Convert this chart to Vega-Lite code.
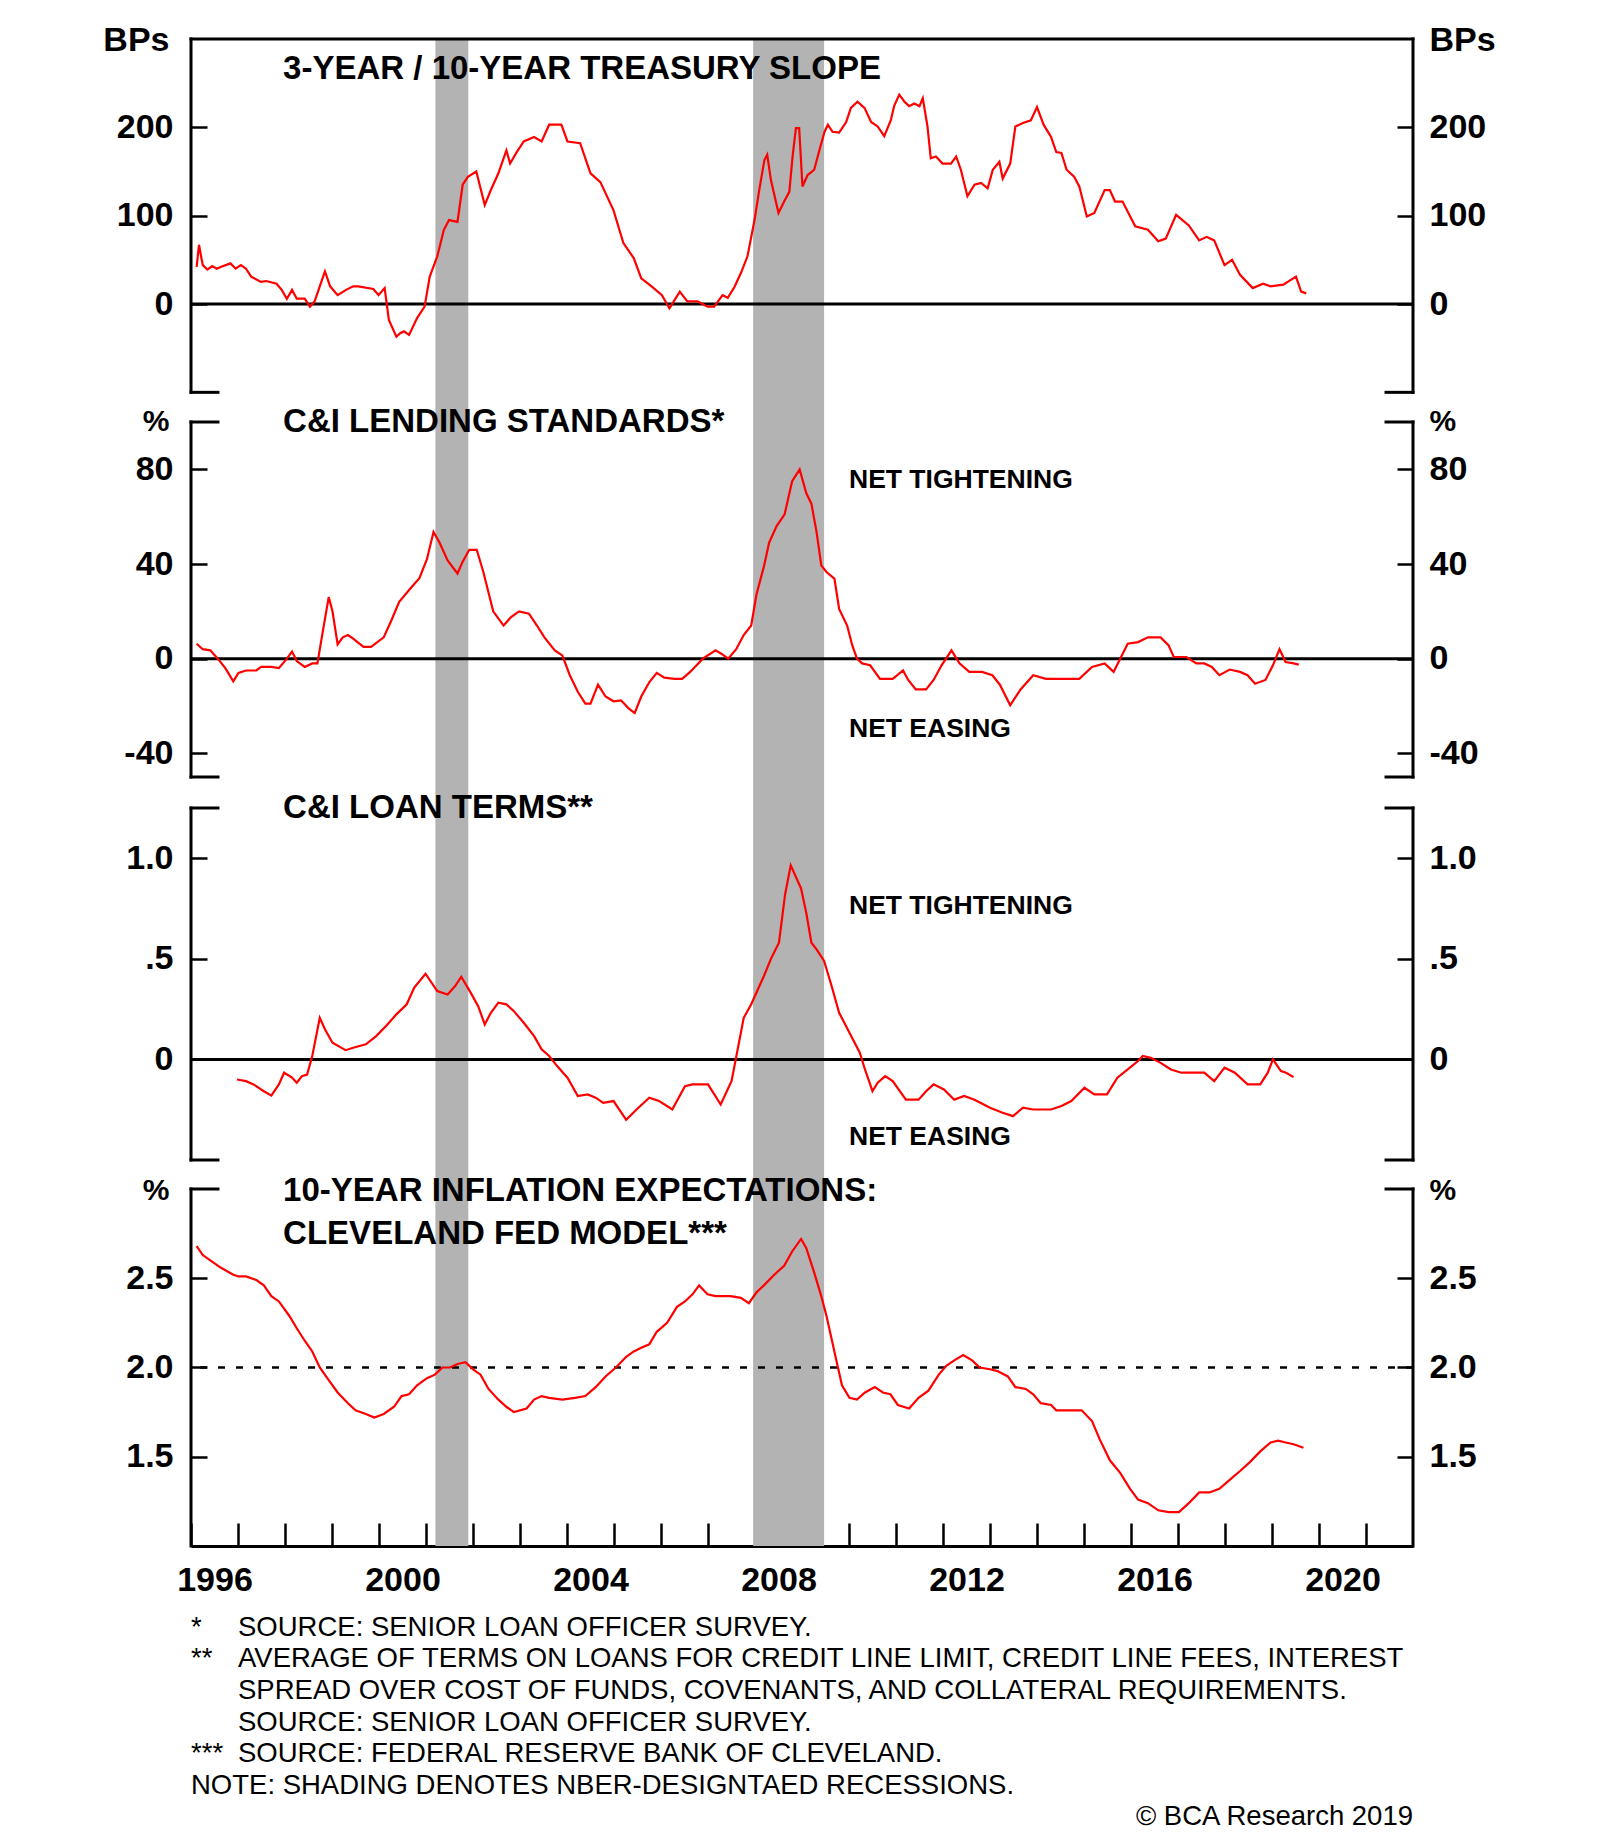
{
  "$schema": "https://vega.github.io/schema/vega-lite/v6.json",
  "background": "white",
  "padding": {"left": 102, "top": 23, "right": 5, "bottom": 3},
  "spacing": 0,
  "bounds": "flush",
  "datasets": {
    "recessions": [{"start": 2001.2, "end": 2001.9}, {"start": 2007.96, "end": 2009.47}],
    "slope": [
      {"year":1996.12,"value":42},{"year":1996.17,"value":67},{"year":1996.25,"value":44},{"year":1996.35,"value":39},{"year":1996.45,"value":43},{"year":1996.55,"value":40},{"year":1996.63,"value":42},{"year":1996.84,"value":46},{"year":1996.95,"value":40},{"year":1997.06,"value":44},{"year":1997.17,"value":40},{"year":1997.28,"value":31},{"year":1997.49,"value":25},{"year":1997.6,"value":26},{"year":1997.82,"value":23},{"year":1997.93,"value":16},{"year":1998.04,"value":6},{"year":1998.15,"value":16},{"year":1998.25,"value":6},{"year":1998.42,"value":6},{"year":1998.53,"value":-3},{"year":1998.63,"value":3},{"year":1998.74,"value":20},{"year":1998.85,"value":37},{"year":1998.96,"value":20},{"year":1999.12,"value":10},{"year":1999.3,"value":16},{"year":1999.45,"value":20},{"year":1999.56,"value":20},{"year":1999.88,"value":17},{"year":1999.99,"value":10},{"year":2000.12,"value":18},{"year":2000.21,"value":-18},{"year":2000.37,"value":-37},{"year":2000.45,"value":-33},{"year":2000.53,"value":-31},{"year":2000.64,"value":-35},{"year":2000.81,"value":-16},{"year":2000.97,"value":-3},{"year":2001.08,"value":31},{"year":2001.24,"value":54},{"year":2001.38,"value":84},{"year":2001.49,"value":95},{"year":2001.67,"value":93},{"year":2001.78,"value":135},{"year":2001.89,"value":144},{"year":2002.07,"value":150},{"year":2002.25,"value":112},{"year":2002.38,"value":129},{"year":2002.54,"value":148},{"year":2002.71,"value":174},{"year":2002.79,"value":159},{"year":2002.92,"value":171},{"year":2003.08,"value":184},{"year":2003.3,"value":189},{"year":2003.46,"value":184},{"year":2003.62,"value":203},{"year":2003.88,"value":203},{"year":2004.01,"value":184},{"year":2004.28,"value":182},{"year":2004.5,"value":148},{"year":2004.71,"value":138},{"year":2004.99,"value":106},{"year":2005.2,"value":69},{"year":2005.42,"value":52},{"year":2005.58,"value":29},{"year":2005.8,"value":20},{"year":2006.02,"value":10},{"year":2006.18,"value":-5},{"year":2006.4,"value":14},{"year":2006.56,"value":3},{"year":2006.78,"value":3},{"year":2006.99,"value":-3},{"year":2007.13,"value":-3},{"year":2007.31,"value":10},{"year":2007.42,"value":7},{"year":2007.56,"value":19},{"year":2007.7,"value":35},{"year":2007.84,"value":54},{"year":2007.99,"value":95},{"year":2008.09,"value":129},{"year":2008.2,"value":163},{"year":2008.26,"value":169},{"year":2008.34,"value":140},{"year":2008.5,"value":103},{"year":2008.62,"value":116},{"year":2008.73,"value":127},{"year":2008.8,"value":167},{"year":2008.87,"value":199},{"year":2008.94,"value":199},{"year":2009.01,"value":133},{"year":2009.12,"value":146},{"year":2009.26,"value":152},{"year":2009.37,"value":174},{"year":2009.48,"value":195},{"year":2009.55,"value":203},{"year":2009.65,"value":195},{"year":2009.79,"value":194},{"year":2009.94,"value":206},{"year":2010.04,"value":222},{"year":2010.18,"value":229},{"year":2010.33,"value":222},{"year":2010.47,"value":206},{"year":2010.61,"value":201},{"year":2010.75,"value":190},{"year":2010.89,"value":208},{"year":2010.96,"value":224},{"year":2011.07,"value":237},{"year":2011.18,"value":229},{"year":2011.28,"value":224},{"year":2011.39,"value":227},{"year":2011.5,"value":224},{"year":2011.57,"value":233},{"year":2011.67,"value":201},{"year":2011.74,"value":165},{"year":2011.85,"value":167},{"year":2011.99,"value":159},{"year":2012.17,"value":159},{"year":2012.28,"value":167},{"year":2012.38,"value":152},{"year":2012.52,"value":122},{"year":2012.67,"value":135},{"year":2012.81,"value":137},{"year":2012.95,"value":131},{"year":2013.06,"value":152},{"year":2013.2,"value":161},{"year":2013.27,"value":142},{"year":2013.43,"value":159},{"year":2013.54,"value":201},{"year":2013.7,"value":205},{"year":2013.87,"value":208},{"year":2014.0,"value":223},{"year":2014.14,"value":203},{"year":2014.3,"value":189},{"year":2014.41,"value":172},{"year":2014.52,"value":171},{"year":2014.63,"value":152},{"year":2014.79,"value":144},{"year":2014.9,"value":133},{"year":2015.06,"value":99},{"year":2015.22,"value":103},{"year":2015.44,"value":129},{"year":2015.55,"value":129},{"year":2015.66,"value":116},{"year":2015.82,"value":116},{"year":2016.09,"value":88},{"year":2016.36,"value":84},{"year":2016.58,"value":71},{"year":2016.74,"value":74},{"year":2016.96,"value":101},{"year":2017.23,"value":89},{"year":2017.45,"value":72},{"year":2017.61,"value":76},{"year":2017.77,"value":72},{"year":2017.99,"value":44},{"year":2018.15,"value":50},{"year":2018.32,"value":33},{"year":2018.59,"value":18},{"year":2018.81,"value":23},{"year":2018.97,"value":20},{"year":2019.24,"value":22},{"year":2019.51,"value":31},{"year":2019.62,"value":14},{"year":2019.73,"value":12}
    ],
    "standards": [
      {"year":1996.12,"value":6.3},{"year":1996.25,"value":4},{"year":1996.41,"value":3.5},{"year":1996.57,"value":0},{"year":1996.73,"value":-4},{"year":1996.9,"value":-9.6},{"year":1997.01,"value":-6},{"year":1997.17,"value":-5},{"year":1997.39,"value":-5},{"year":1997.49,"value":-3.5},{"year":1997.71,"value":-3.5},{"year":1997.87,"value":-4},{"year":1998.04,"value":0},{"year":1998.15,"value":3},{"year":1998.25,"value":-1},{"year":1998.42,"value":-3.5},{"year":1998.58,"value":-2},{"year":1998.69,"value":-2},{"year":1998.8,"value":11},{"year":1998.93,"value":26},{"year":1999.01,"value":20},{"year":1999.12,"value":6},{"year":1999.23,"value":9},{"year":1999.34,"value":10},{"year":1999.45,"value":8.5},{"year":1999.67,"value":5},{"year":1999.83,"value":5},{"year":2000.1,"value":9},{"year":2000.26,"value":16},{"year":2000.43,"value":24},{"year":2000.64,"value":29},{"year":2000.86,"value":34},{"year":2001.02,"value":42},{"year":2001.16,"value":53.5},{"year":2001.29,"value":49},{"year":2001.46,"value":41.5},{"year":2001.67,"value":36},{"year":2001.78,"value":41},{"year":2001.92,"value":46},{"year":2002.08,"value":46},{"year":2002.22,"value":36.6},{"year":2002.43,"value":20},{"year":2002.65,"value":14},{"year":2002.81,"value":17.6},{"year":2002.98,"value":20},{"year":2003.19,"value":19},{"year":2003.36,"value":14},{"year":2003.52,"value":9},{"year":2003.74,"value":3.5},{"year":2003.9,"value":1.4},{"year":2004.06,"value":-7},{"year":2004.23,"value":-14},{"year":2004.39,"value":-19},{"year":2004.5,"value":-19},{"year":2004.66,"value":-11},{"year":2004.82,"value":-16},{"year":2004.99,"value":-18},{"year":2005.15,"value":-17.6},{"year":2005.31,"value":-21},{"year":2005.44,"value":-23},{"year":2005.58,"value":-16},{"year":2005.75,"value":-10},{"year":2005.91,"value":-6},{"year":2006.07,"value":-8},{"year":2006.29,"value":-8.5},{"year":2006.45,"value":-8.5},{"year":2006.62,"value":-5.6},{"year":2006.89,"value":0},{"year":2007.16,"value":3.5},{"year":2007.29,"value":2},{"year":2007.43,"value":0},{"year":2007.6,"value":4},{"year":2007.76,"value":10},{"year":2007.92,"value":14},{"year":2008.03,"value":27},{"year":2008.19,"value":39},{"year":2008.3,"value":49},{"year":2008.46,"value":56},{"year":2008.63,"value":61},{"year":2008.79,"value":75},{"year":2008.95,"value":80},{"year":2009.09,"value":70},{"year":2009.2,"value":65.5},{"year":2009.31,"value":53.5},{"year":2009.41,"value":39.4},{"year":2009.52,"value":36.6},{"year":2009.69,"value":33.8},{"year":2009.79,"value":21},{"year":2009.96,"value":14},{"year":2010.07,"value":5.6},{"year":2010.17,"value":0},{"year":2010.28,"value":-2},{"year":2010.45,"value":-2.8},{"year":2010.66,"value":-8.5},{"year":2010.93,"value":-8.5},{"year":2011.15,"value":-5},{"year":2011.26,"value":-9},{"year":2011.42,"value":-13},{"year":2011.64,"value":-13},{"year":2011.8,"value":-9},{"year":2011.97,"value":-2.8},{"year":2012.18,"value":3.5},{"year":2012.35,"value":-2},{"year":2012.56,"value":-5.6},{"year":2012.83,"value":-5.6},{"year":2013.05,"value":-7},{"year":2013.21,"value":-11},{"year":2013.43,"value":-19.7},{"year":2013.65,"value":-13},{"year":2013.92,"value":-7},{"year":2014.19,"value":-8.5},{"year":2014.63,"value":-8.5},{"year":2014.9,"value":-8.5},{"year":2015.17,"value":-3.5},{"year":2015.44,"value":-2},{"year":2015.63,"value":-5.6},{"year":2015.77,"value":0},{"year":2015.93,"value":6.3},{"year":2016.15,"value":7},{"year":2016.36,"value":9},{"year":2016.63,"value":9},{"year":2016.8,"value":5.6},{"year":2016.91,"value":0.7},{"year":2017.18,"value":0.7},{"year":2017.39,"value":-2},{"year":2017.56,"value":-2},{"year":2017.72,"value":-3.5},{"year":2017.88,"value":-7},{"year":2018.1,"value":-4.6},{"year":2018.32,"value":-5.6},{"year":2018.48,"value":-7},{"year":2018.64,"value":-10.6},{"year":2018.86,"value":-9},{"year":2019.02,"value":-2.8},{"year":2019.16,"value":4},{"year":2019.29,"value":-1.4},{"year":2019.46,"value":-2},{"year":2019.57,"value":-2.5}
    ],
    "terms": [
      {"year":1996.98,"value":-0.1},{"year":1997.17,"value":-0.108},{"year":1997.33,"value":-0.124},{"year":1997.55,"value":-0.158},{"year":1997.71,"value":-0.18},{"year":1997.87,"value":-0.124},{"year":1997.98,"value":-0.066},{"year":1998.15,"value":-0.09},{"year":1998.25,"value":-0.116},{"year":1998.36,"value":-0.083},{"year":1998.47,"value":-0.075},{"year":1998.58,"value":0.017},{"year":1998.74,"value":0.207},{"year":1998.85,"value":0.15},{"year":1999.01,"value":0.083},{"year":1999.29,"value":0.046},{"year":1999.45,"value":0.058},{"year":1999.72,"value":0.075},{"year":1999.94,"value":0.116},{"year":2000.15,"value":0.166},{"year":2000.37,"value":0.224},{"year":2000.59,"value":0.274},{"year":2000.75,"value":0.357},{"year":2000.99,"value":0.426},{"year":2001.24,"value":0.34},{"year":2001.46,"value":0.323},{"year":2001.62,"value":0.365},{"year":2001.75,"value":0.411},{"year":2001.95,"value":0.332},{"year":2002.11,"value":0.265},{"year":2002.25,"value":0.174},{"year":2002.38,"value":0.232},{"year":2002.54,"value":0.282},{"year":2002.71,"value":0.274},{"year":2002.87,"value":0.24},{"year":2003.08,"value":0.182},{"year":2003.3,"value":0.116},{"year":2003.46,"value":0.05},{"year":2003.62,"value":0.017},{"year":2003.79,"value":-0.033},{"year":2004.01,"value":-0.091},{"year":2004.23,"value":-0.182},{"year":2004.44,"value":-0.174},{"year":2004.61,"value":-0.19},{"year":2004.77,"value":-0.216},{"year":2004.99,"value":-0.207},{"year":2005.26,"value":-0.3},{"year":2005.48,"value":-0.249},{"year":2005.75,"value":-0.19},{"year":2005.96,"value":-0.207},{"year":2006.24,"value":-0.249},{"year":2006.51,"value":-0.133},{"year":2006.67,"value":-0.124},{"year":2007.0,"value":-0.124},{"year":2007.27,"value":-0.224},{"year":2007.5,"value":-0.108},{"year":2007.59,"value":0.0},{"year":2007.76,"value":0.207},{"year":2007.92,"value":0.274},{"year":2008.19,"value":0.415},{"year":2008.35,"value":0.506},{"year":2008.51,"value":0.58},{"year":2008.64,"value":0.82},{"year":2008.76,"value":0.965},{"year":2008.98,"value":0.85},{"year":2009.09,"value":0.73},{"year":2009.2,"value":0.58},{"year":2009.31,"value":0.547},{"year":2009.47,"value":0.49},{"year":2009.63,"value":0.365},{"year":2009.79,"value":0.232},{"year":2010.01,"value":0.133},{"year":2010.23,"value":0.033},{"year":2010.34,"value":-0.05},{"year":2010.5,"value":-0.158},{"year":2010.61,"value":-0.116},{"year":2010.77,"value":-0.083},{"year":2010.93,"value":-0.108},{"year":2011.21,"value":-0.2},{"year":2011.48,"value":-0.2},{"year":2011.64,"value":-0.158},{"year":2011.8,"value":-0.124},{"year":2012.02,"value":-0.149},{"year":2012.24,"value":-0.2},{"year":2012.45,"value":-0.182},{"year":2012.67,"value":-0.2},{"year":2013.0,"value":-0.24},{"year":2013.27,"value":-0.265},{"year":2013.49,"value":-0.282},{"year":2013.7,"value":-0.24},{"year":2013.92,"value":-0.249},{"year":2014.3,"value":-0.249},{"year":2014.52,"value":-0.232},{"year":2014.73,"value":-0.207},{"year":2015.01,"value":-0.141},{"year":2015.22,"value":-0.174},{"year":2015.49,"value":-0.174},{"year":2015.71,"value":-0.091},{"year":2015.93,"value":-0.05},{"year":2016.15,"value":-0.008},{"year":2016.25,"value":0.017},{"year":2016.42,"value":0.008},{"year":2016.63,"value":-0.017},{"year":2016.85,"value":-0.05},{"year":2017.07,"value":-0.066},{"year":2017.34,"value":-0.066},{"year":2017.56,"value":-0.066},{"year":2017.77,"value":-0.108},{"year":2017.99,"value":-0.041},{"year":2018.21,"value":-0.066},{"year":2018.48,"value":-0.124},{"year":2018.75,"value":-0.124},{"year":2018.91,"value":-0.066},{"year":2019.02,"value":0.0},{"year":2019.19,"value":-0.058},{"year":2019.3,"value":-0.066},{"year":2019.46,"value":-0.088}
    ],
    "infl": [
      {"year":1996.12,"value":2.68},{"year":1996.25,"value":2.63},{"year":1996.41,"value":2.6},{"year":1996.63,"value":2.56},{"year":1996.9,"value":2.52},{"year":1997.01,"value":2.51},{"year":1997.17,"value":2.51},{"year":1997.39,"value":2.49},{"year":1997.55,"value":2.46},{"year":1997.71,"value":2.4},{"year":1997.87,"value":2.37},{"year":1998.09,"value":2.29},{"year":1998.25,"value":2.22},{"year":1998.42,"value":2.15},{"year":1998.58,"value":2.09},{"year":1998.74,"value":2.0},{"year":1998.9,"value":1.94},{"year":1999.12,"value":1.86},{"year":1999.34,"value":1.8},{"year":1999.5,"value":1.76},{"year":1999.72,"value":1.74},{"year":1999.9,"value":1.72},{"year":2000.1,"value":1.74},{"year":2000.32,"value":1.78},{"year":2000.48,"value":1.84},{"year":2000.64,"value":1.85},{"year":2000.81,"value":1.9},{"year":2001.02,"value":1.94},{"year":2001.19,"value":1.96},{"year":2001.35,"value":2.0},{"year":2001.51,"value":2.0},{"year":2001.67,"value":2.02},{"year":2001.84,"value":2.03},{"year":2002.0,"value":1.99},{"year":2002.16,"value":1.96},{"year":2002.33,"value":1.88},{"year":2002.54,"value":1.82},{"year":2002.71,"value":1.78},{"year":2002.87,"value":1.75},{"year":2003.14,"value":1.77},{"year":2003.3,"value":1.82},{"year":2003.46,"value":1.84},{"year":2003.62,"value":1.83},{"year":2003.9,"value":1.82},{"year":2004.17,"value":1.83},{"year":2004.39,"value":1.84},{"year":2004.61,"value":1.89},{"year":2004.82,"value":1.95},{"year":2005.04,"value":2.0},{"year":2005.26,"value":2.06},{"year":2005.42,"value":2.09},{"year":2005.58,"value":2.11},{"year":2005.75,"value":2.13},{"year":2005.91,"value":2.2},{"year":2006.13,"value":2.25},{"year":2006.34,"value":2.34},{"year":2006.51,"value":2.37},{"year":2006.67,"value":2.41},{"year":2006.81,"value":2.46},{"year":2006.99,"value":2.41},{"year":2007.16,"value":2.4},{"year":2007.48,"value":2.4},{"year":2007.7,"value":2.39},{"year":2007.87,"value":2.36},{"year":2008.03,"value":2.42},{"year":2008.19,"value":2.46},{"year":2008.41,"value":2.52},{"year":2008.62,"value":2.57},{"year":2008.79,"value":2.65},{"year":2008.98,"value":2.72},{"year":2009.09,"value":2.67},{"year":2009.25,"value":2.54},{"year":2009.41,"value":2.4},{"year":2009.52,"value":2.29},{"year":2009.63,"value":2.16},{"year":2009.74,"value":2.03},{"year":2009.85,"value":1.9},{"year":2010.01,"value":1.83},{"year":2010.17,"value":1.82},{"year":2010.34,"value":1.86},{"year":2010.55,"value":1.89},{"year":2010.72,"value":1.86},{"year":2010.88,"value":1.85},{"year":2011.04,"value":1.79},{"year":2011.28,"value":1.77},{"year":2011.48,"value":1.83},{"year":2011.69,"value":1.87},{"year":2011.91,"value":1.96},{"year":2012.07,"value":2.01},{"year":2012.24,"value":2.04},{"year":2012.43,"value":2.07},{"year":2012.62,"value":2.04},{"year":2012.78,"value":2.0},{"year":2013.0,"value":1.99},{"year":2013.16,"value":1.98},{"year":2013.38,"value":1.95},{"year":2013.54,"value":1.89},{"year":2013.76,"value":1.88},{"year":2013.92,"value":1.85},{"year":2014.08,"value":1.8},{"year":2014.3,"value":1.79},{"year":2014.41,"value":1.76},{"year":2014.95,"value":1.76},{"year":2015.17,"value":1.7},{"year":2015.33,"value":1.6},{"year":2015.55,"value":1.48},{"year":2015.77,"value":1.41},{"year":2015.98,"value":1.32},{"year":2016.15,"value":1.26},{"year":2016.36,"value":1.24},{"year":2016.58,"value":1.2},{"year":2016.8,"value":1.19},{"year":2017.02,"value":1.19},{"year":2017.23,"value":1.24},{"year":2017.45,"value":1.3},{"year":2017.67,"value":1.3},{"year":2017.88,"value":1.32},{"year":2018.1,"value":1.37},{"year":2018.32,"value":1.42},{"year":2018.53,"value":1.47},{"year":2018.75,"value":1.53},{"year":2018.97,"value":1.58},{"year":2019.13,"value":1.59},{"year":2019.29,"value":1.58},{"year":2019.46,"value":1.57},{"year":2019.67,"value":1.55}
    ],
    "notes": [
      {"line": 1, "marker": "*", "body": "SOURCE: SENIOR LOAN OFFICER SURVEY."},
      {"line": 2, "marker": "**", "body": "AVERAGE OF TERMS ON LOANS FOR CREDIT LINE LIMIT, CREDIT LINE FEES, INTEREST"},
      {"line": 3, "marker": "", "body": "SPREAD OVER COST OF FUNDS, COVENANTS, AND COLLATERAL REQUIREMENTS."},
      {"line": 4, "marker": "", "body": "SOURCE: SENIOR LOAN OFFICER SURVEY."},
      {"line": 5, "marker": "***", "body": "SOURCE: FEDERAL RESERVE BANK OF CLEVELAND."},
      {"line": 6, "marker": "NOTE: SHADING DENOTES NBER-DESIGNTAED RECESSIONS.", "body": ""}
    ]
  },
  "vconcat": [
    {
      "width": 1222, "height": 368,
      "resolve": {"axis": {"y": "independent"}},
      "layer": [
        {"data": {"name": "recessions"}, "mark": {"type": "rect", "color": "#b3b3b3"},
         "encoding": {"x": {"field": "start", "type": "quantitative", "scale": {"domain": [1996, 2022], "nice": false, "zero": false}, "axis": null}, "x2": {"field": "end"}}},
        {"data": {"values": [{}]}, "mark": {"type": "rule", "color": "#000", "strokeWidth": 3},
         "encoding": {"y": {"datum": 0, "type": "quantitative", "scale": {"domain": [-116.6, 300], "nice": false, "zero": false}, "axis": null}}},
        {"data": {"values": [{}]}, "mark": {"type": "rule", "color": "#000", "strokeWidth": 3, "strokeCap": "square"},
         "encoding": {"y": {"datum": 300, "type": "quantitative", "scale": {"domain": [-116.6, 300], "nice": false, "zero": false}, "axis": null}}},
        {"data": {"name": "slope"}, "mark": {"type": "line", "color": "#ff0000", "strokeWidth": 2.2},
         "encoding": {
           "x": {"field": "year", "type": "quantitative", "scale": {"domain": [1996, 2022], "nice": false, "zero": false}, "axis": null},
           "y": {"field": "value", "type": "quantitative", "scale": {"domain": [-116.6, 300], "nice": false, "zero": false},
                 "axis": {"orient": "left", "values": [0, 100, 200], "labelExpr": "datum.value + ''", "tickSize": -16, "labelPadding": 34, "title": "BPs", "titleAlign": "right", "titleX": -22, "titleY": 1}}}},
        {"data": {"values": [{}]}, "mark": {"type": "rule", "color": "#000", "strokeWidth": 3, "strokeCap": "square"},
         "encoding": {"x": {"datum": 1996, "type": "quantitative", "scale": {"domain": [1996, 2022], "nice": false, "zero": false}, "axis": null},
                      "y": {"datum": -100, "type": "quantitative", "scale": {"domain": [-116.6, 300], "nice": false, "zero": false}, "axis": null}, "y2": {"datum": 300}}},
        {"data": {"values": [{}]}, "mark": {"type": "rule", "color": "#000", "strokeWidth": 3, "strokeCap": "square"},
         "encoding": {"x": {"datum": 2022, "type": "quantitative", "scale": {"domain": [1996, 2022], "nice": false, "zero": false}, "axis": null},
                      "y": {"datum": -100, "type": "quantitative", "scale": {"domain": [-116.6, 300], "nice": false, "zero": false},
                            "axis": {"orient": "right", "values": [0, 100, 200], "labelExpr": "datum.value + ''", "tickSize": -16, "labelPadding": 32, "title": "BPs", "titleAlign": "left", "titleX": 16, "titleY": 1}}, "y2": {"datum": 300}}},
        {"data": {"values": [{}]}, "mark": {"type": "rule", "color": "#000", "strokeWidth": 3, "strokeCap": "square"},
         "encoding": {"x": {"datum": 1996, "type": "quantitative", "scale": {"domain": [1996, 2022], "nice": false, "zero": false}, "axis": null}, "x2": {"datum": 1996.574},
                      "y": {"datum": -100, "type": "quantitative", "scale": {"domain": [-116.6, 300], "nice": false, "zero": false}, "axis": null}}},
        {"data": {"values": [{}]}, "mark": {"type": "rule", "color": "#000", "strokeWidth": 3, "strokeCap": "square"},
         "encoding": {"x": {"datum": 2021.426, "type": "quantitative", "scale": {"domain": [1996, 2022], "nice": false, "zero": false}, "axis": null}, "x2": {"datum": 2022},
                      "y": {"datum": -100, "type": "quantitative", "scale": {"domain": [-116.6, 300], "nice": false, "zero": false}, "axis": null}}},
        {"data": {"values": [{}]}, "mark": {"type": "text", "align": "left", "baseline": "middle", "fontSize": 33, "fontWeight": "bold"},
         "encoding": {"x": {"datum": 1997.96, "type": "quantitative", "scale": {"domain": [1996, 2022], "nice": false, "zero": false}, "axis": null},
                      "y": {"datum": 266, "type": "quantitative", "scale": {"domain": [-116.6, 300], "nice": false, "zero": false}, "axis": null},
                      "text": {"value": "3-YEAR / 10-YEAR TREASURY SLOPE"}}}
      ]
    },
    {
      "width": 1222, "height": 385,
      "resolve": {"axis": {"y": "independent"}},
      "layer": [
        {"data": {"name": "recessions"}, "mark": {"type": "rect", "color": "#b3b3b3"},
         "encoding": {"x": {"field": "start", "type": "quantitative", "scale": {"domain": [1996, 2022], "nice": false, "zero": false}, "axis": null}, "x2": {"field": "end"}}},
        {"data": {"values": [{}]}, "mark": {"type": "rule", "color": "#000", "strokeWidth": 3},
         "encoding": {"y": {"datum": 0, "type": "quantitative", "scale": {"domain": [-56.34, 106.34], "nice": false, "zero": false}, "axis": null}}},
        {"data": {"name": "standards"}, "mark": {"type": "line", "color": "#ff0000", "strokeWidth": 2.2},
         "encoding": {
           "x": {"field": "year", "type": "quantitative", "scale": {"domain": [1996, 2022], "nice": false, "zero": false}, "axis": null},
           "y": {"field": "value", "type": "quantitative", "scale": {"domain": [-56.34, 106.34], "nice": false, "zero": false},
                 "axis": {"orient": "left", "values": [-40, 0, 40, 80], "labelExpr": "datum.value + ''", "tickSize": -16, "labelPadding": 34, "title": "%", "titleFontSize": 30, "titleAlign": "right", "titleX": -22, "titleY": 14}}}},
        {"data": {"values": [{}]}, "mark": {"type": "rule", "color": "#000", "strokeWidth": 3, "strokeCap": "square"},
         "encoding": {"x": {"datum": 1996, "type": "quantitative", "scale": {"domain": [1996, 2022], "nice": false, "zero": false}, "axis": null},
                      "y": {"datum": -50, "type": "quantitative", "scale": {"domain": [-56.34, 106.34], "nice": false, "zero": false}, "axis": null}, "y2": {"datum": 100}}},
        {"data": {"values": [{}]}, "mark": {"type": "rule", "color": "#000", "strokeWidth": 3, "strokeCap": "square"},
         "encoding": {"x": {"datum": 2022, "type": "quantitative", "scale": {"domain": [1996, 2022], "nice": false, "zero": false}, "axis": null},
                      "y": {"datum": -50, "type": "quantitative", "scale": {"domain": [-56.34, 106.34], "nice": false, "zero": false},
                            "axis": {"orient": "right", "values": [-40, 0, 40, 80], "labelExpr": "datum.value + ''", "tickSize": -16, "labelPadding": 32, "title": "%", "titleFontSize": 30, "titleAlign": "left", "titleX": 16, "titleY": 14}}, "y2": {"datum": 100}}},
        {"data": {"values": [{"v": -50}, {"v": 100}]}, "mark": {"type": "rule", "color": "#000", "strokeWidth": 3, "strokeCap": "square"},
         "encoding": {"x": {"datum": 1996, "type": "quantitative", "scale": {"domain": [1996, 2022], "nice": false, "zero": false}, "axis": null}, "x2": {"datum": 1996.574},
                      "y": {"field": "v", "type": "quantitative", "scale": {"domain": [-56.34, 106.34], "nice": false, "zero": false}, "axis": null}}},
        {"data": {"values": [{"v": -50}, {"v": 100}]}, "mark": {"type": "rule", "color": "#000", "strokeWidth": 3, "strokeCap": "square"},
         "encoding": {"x": {"datum": 2021.426, "type": "quantitative", "scale": {"domain": [1996, 2022], "nice": false, "zero": false}, "axis": null}, "x2": {"datum": 2022},
                      "y": {"field": "v", "type": "quantitative", "scale": {"domain": [-56.34, 106.34], "nice": false, "zero": false}, "axis": null}}},
        {"data": {"values": [{}]}, "mark": {"type": "text", "align": "left", "baseline": "middle", "fontSize": 33, "fontWeight": "bold"},
         "encoding": {"x": {"datum": 1997.96, "type": "quantitative", "scale": {"domain": [1996, 2022], "nice": false, "zero": false}, "axis": null},
                      "y": {"datum": 100, "type": "quantitative", "scale": {"domain": [-56.34, 106.34], "nice": false, "zero": false}, "axis": null},
                      "text": {"value": "C&I LENDING STANDARDS*"}}},
        {"data": {"values": [{}]}, "mark": {"type": "text", "align": "left", "baseline": "middle", "fontSize": 26.5, "fontWeight": "bold"},
         "encoding": {"x": {"datum": 2010.0, "type": "quantitative", "scale": {"domain": [1996, 2022], "nice": false, "zero": false}, "axis": null},
                      "y": {"datum": 75.7, "type": "quantitative", "scale": {"domain": [-56.34, 106.34], "nice": false, "zero": false}, "axis": null},
                      "text": {"value": "NET TIGHTENING"}}},
        {"data": {"values": [{}]}, "mark": {"type": "text", "align": "left", "baseline": "middle", "fontSize": 26.5, "fontWeight": "bold"},
         "encoding": {"x": {"datum": 2010.0, "type": "quantitative", "scale": {"domain": [1996, 2022], "nice": false, "zero": false}, "axis": null},
                      "y": {"datum": -29.6, "type": "quantitative", "scale": {"domain": [-56.34, 106.34], "nice": false, "zero": false}, "axis": null},
                      "text": {"value": "NET EASING"}}}
      ]
    },
    {
      "width": 1222, "height": 382,
      "resolve": {"axis": {"y": "independent"}},
      "layer": [
        {"data": {"name": "recessions"}, "mark": {"type": "rect", "color": "#b3b3b3"},
         "encoding": {"x": {"field": "start", "type": "quantitative", "scale": {"domain": [1996, 2022], "nice": false, "zero": false}, "axis": null}, "x2": {"field": "end"}}},
        {"data": {"values": [{}]}, "mark": {"type": "rule", "color": "#000", "strokeWidth": 3},
         "encoding": {"y": {"datum": 0, "type": "quantitative", "scale": {"domain": [-0.5696, 1.3295], "nice": false, "zero": false}, "axis": null}}},
        {"data": {"name": "terms"}, "mark": {"type": "line", "color": "#ff0000", "strokeWidth": 2.2},
         "encoding": {
           "x": {"field": "year", "type": "quantitative", "scale": {"domain": [1996, 2022], "nice": false, "zero": false}, "axis": null},
           "y": {"field": "value", "type": "quantitative", "scale": {"domain": [-0.5696, 1.3295], "nice": false, "zero": false},
                 "axis": {"orient": "left", "values": [0, 0.5, 1], "labelExpr": "datum.value == 0 ? '0' : datum.value == 0.5 ? '.5' : '1.0'", "tickSize": -16, "labelPadding": 34, "title": null}}}},
        {"data": {"values": [{}]}, "mark": {"type": "rule", "color": "#000", "strokeWidth": 3, "strokeCap": "square"},
         "encoding": {"x": {"datum": 1996, "type": "quantitative", "scale": {"domain": [1996, 2022], "nice": false, "zero": false}, "axis": null},
                      "y": {"datum": -0.5, "type": "quantitative", "scale": {"domain": [-0.5696, 1.3295], "nice": false, "zero": false}, "axis": null}, "y2": {"datum": 1.25}}},
        {"data": {"values": [{}]}, "mark": {"type": "rule", "color": "#000", "strokeWidth": 3, "strokeCap": "square"},
         "encoding": {"x": {"datum": 2022, "type": "quantitative", "scale": {"domain": [1996, 2022], "nice": false, "zero": false}, "axis": null},
                      "y": {"datum": -0.5, "type": "quantitative", "scale": {"domain": [-0.5696, 1.3295], "nice": false, "zero": false},
                            "axis": {"orient": "right", "values": [0, 0.5, 1], "labelExpr": "datum.value == 0 ? '0' : datum.value == 0.5 ? '.5' : '1.0'", "tickSize": -16, "labelPadding": 32, "title": null}}, "y2": {"datum": 1.25}}},
        {"data": {"values": [{"v": -0.5}, {"v": 1.25}]}, "mark": {"type": "rule", "color": "#000", "strokeWidth": 3, "strokeCap": "square"},
         "encoding": {"x": {"datum": 1996, "type": "quantitative", "scale": {"domain": [1996, 2022], "nice": false, "zero": false}, "axis": null}, "x2": {"datum": 1996.574},
                      "y": {"field": "v", "type": "quantitative", "scale": {"domain": [-0.5696, 1.3295], "nice": false, "zero": false}, "axis": null}}},
        {"data": {"values": [{"v": -0.5}, {"v": 1.25}]}, "mark": {"type": "rule", "color": "#000", "strokeWidth": 3, "strokeCap": "square"},
         "encoding": {"x": {"datum": 2021.426, "type": "quantitative", "scale": {"domain": [1996, 2022], "nice": false, "zero": false}, "axis": null}, "x2": {"datum": 2022},
                      "y": {"field": "v", "type": "quantitative", "scale": {"domain": [-0.5696, 1.3295], "nice": false, "zero": false}, "axis": null}}},
        {"data": {"values": [{}]}, "mark": {"type": "text", "align": "left", "baseline": "middle", "fontSize": 33, "fontWeight": "bold"},
         "encoding": {"x": {"datum": 1997.96, "type": "quantitative", "scale": {"domain": [1996, 2022], "nice": false, "zero": false}, "axis": null},
                      "y": {"datum": 1.25, "type": "quantitative", "scale": {"domain": [-0.5696, 1.3295], "nice": false, "zero": false}, "axis": null},
                      "text": {"value": "C&I LOAN TERMS**"}}},
        {"data": {"values": [{}]}, "mark": {"type": "text", "align": "left", "baseline": "middle", "fontSize": 26.5, "fontWeight": "bold"},
         "encoding": {"x": {"datum": 2010.0, "type": "quantitative", "scale": {"domain": [1996, 2022], "nice": false, "zero": false}, "axis": null},
                      "y": {"datum": 0.761, "type": "quantitative", "scale": {"domain": [-0.5696, 1.3295], "nice": false, "zero": false}, "axis": null},
                      "text": {"value": "NET TIGHTENING"}}},
        {"data": {"values": [{}]}, "mark": {"type": "text", "align": "left", "baseline": "middle", "fontSize": 26.5, "fontWeight": "bold"},
         "encoding": {"x": {"datum": 2010.0, "type": "quantitative", "scale": {"domain": [1996, 2022], "nice": false, "zero": false}, "axis": null},
                      "y": {"datum": -0.388, "type": "quantitative", "scale": {"domain": [-0.5696, 1.3295], "nice": false, "zero": false}, "axis": null},
                      "text": {"value": "NET EASING"}}}
      ]
    },
    {
      "width": 1222, "height": 372,
      "resolve": {"axis": {"y": "independent", "x": "independent"}},
      "layer": [
        {"data": {"name": "recessions"}, "mark": {"type": "rect", "color": "#b3b3b3"},
         "encoding": {"x": {"field": "start", "type": "quantitative", "scale": {"domain": [1996, 2022], "nice": false, "zero": false}, "axis": null}, "x2": {"field": "end"}}},
        {"data": {"values": [{}]}, "mark": {"type": "rule", "color": "#000", "strokeWidth": 2.5, "strokeDash": [7, 11]},
         "encoding": {"y": {"datum": 2, "type": "quantitative", "scale": {"domain": [1.0, 3.084], "nice": false, "zero": false}, "axis": null}}},
        {"data": {"name": "infl"}, "mark": {"type": "line", "color": "#ff0000", "strokeWidth": 2.2},
         "encoding": {
           "x": {"field": "year", "type": "quantitative", "scale": {"domain": [1996, 2022], "nice": false, "zero": false},
                 "axis": {"orient": "bottom", "values": [1996,1997,1998,1999,2000,2001,2002,2003,2004,2005,2006,2007,2008,2009,2010,2011,2012,2013,2014,2015,2016,2017,2018,2019,2020,2021],
                          "labelExpr": "datum.value % 4 == 0 ? datum.value + '' : ''", "tickSize": -23, "labelPadding": 40.5, "labelOffset": 23.5, "labelBaseline": "top",
                          "domain": true, "domainWidth": 3, "domainColor": "#000", "title": null}},
           "y": {"field": "value", "type": "quantitative", "scale": {"domain": [1.0, 3.084], "nice": false, "zero": false},
                 "axis": {"orient": "left", "values": [1.5, 2, 2.5], "labelExpr": "format(datum.value, '.1f')", "tickSize": -16, "labelPadding": 34, "title": "%", "titleFontSize": 30, "titleAlign": "right", "titleX": -22, "titleY": 16}}}},
        {"data": {"values": [{}]}, "mark": {"type": "rule", "color": "#000", "strokeWidth": 3, "strokeCap": "square"},
         "encoding": {"x": {"datum": 1996, "type": "quantitative", "scale": {"domain": [1996, 2022], "nice": false, "zero": false}, "axis": null},
                      "y": {"datum": 1.0, "type": "quantitative", "scale": {"domain": [1.0, 3.084], "nice": false, "zero": false}, "axis": null}, "y2": {"datum": 3.0}}},
        {"data": {"values": [{}]}, "mark": {"type": "rule", "color": "#000", "strokeWidth": 3, "strokeCap": "square"},
         "encoding": {"x": {"datum": 2022, "type": "quantitative", "scale": {"domain": [1996, 2022], "nice": false, "zero": false}, "axis": null},
                      "y": {"datum": 1.0, "type": "quantitative", "scale": {"domain": [1.0, 3.084], "nice": false, "zero": false},
                            "axis": {"orient": "right", "values": [1.5, 2, 2.5], "labelExpr": "format(datum.value, '.1f')", "tickSize": -16, "labelPadding": 32, "title": "%", "titleFontSize": 30, "titleAlign": "left", "titleX": 16, "titleY": 16}}, "y2": {"datum": 3.0}}},
        {"data": {"values": [{}]}, "mark": {"type": "rule", "color": "#000", "strokeWidth": 3, "strokeCap": "square"},
         "encoding": {"x": {"datum": 1996, "type": "quantitative", "scale": {"domain": [1996, 2022], "nice": false, "zero": false}, "axis": null}, "x2": {"datum": 1996.574},
                      "y": {"datum": 3.0, "type": "quantitative", "scale": {"domain": [1.0, 3.084], "nice": false, "zero": false}, "axis": null}}},
        {"data": {"values": [{}]}, "mark": {"type": "rule", "color": "#000", "strokeWidth": 3, "strokeCap": "square"},
         "encoding": {"x": {"datum": 2021.426, "type": "quantitative", "scale": {"domain": [1996, 2022], "nice": false, "zero": false}, "axis": null}, "x2": {"datum": 2022},
                      "y": {"datum": 3.0, "type": "quantitative", "scale": {"domain": [1.0, 3.084], "nice": false, "zero": false}, "axis": null}}},
        {"data": {"values": [{}]}, "mark": {"type": "text", "align": "left", "baseline": "middle", "fontSize": 33, "fontWeight": "bold"},
         "encoding": {"x": {"datum": 1997.96, "type": "quantitative", "scale": {"domain": [1996, 2022], "nice": false, "zero": false}, "axis": null},
                      "y": {"datum": 2.99, "type": "quantitative", "scale": {"domain": [1.0, 3.084], "nice": false, "zero": false}, "axis": null},
                      "text": {"value": "10-YEAR INFLATION EXPECTATIONS:"}}},
        {"data": {"values": [{}]}, "mark": {"type": "text", "align": "left", "baseline": "middle", "fontSize": 33, "fontWeight": "bold"},
         "encoding": {"x": {"datum": 1997.96, "type": "quantitative", "scale": {"domain": [1996, 2022], "nice": false, "zero": false}, "axis": null},
                      "y": {"datum": 2.748, "type": "quantitative", "scale": {"domain": [1.0, 3.084], "nice": false, "zero": false}, "axis": null},
                      "text": {"value": "CLEVELAND FED MODEL***"}}}
      ]
    },
    {
      "width": 1222, "height": 290,
      "layer": [
        {"data": {"name": "notes"}, "mark": {"type": "text", "align": "left", "baseline": "middle", "fontSize": 27.5},
         "encoding": {"x": {"datum": 1996, "type": "quantitative", "scale": {"domain": [1996, 2022], "nice": false, "zero": false}, "axis": null},
                      "y": {"field": "line", "type": "quantitative", "scale": {"domain": [-1.603, 7.603], "nice": false, "zero": false, "reverse": true}, "axis": null},
                      "text": {"field": "marker"}}},
        {"data": {"name": "notes"}, "mark": {"type": "text", "align": "left", "baseline": "middle", "fontSize": 27.5},
         "encoding": {"x": {"datum": 1997.0, "type": "quantitative", "scale": {"domain": [1996, 2022], "nice": false, "zero": false}, "axis": null},
                      "y": {"field": "line", "type": "quantitative", "scale": {"domain": [-1.603, 7.603], "nice": false, "zero": false, "reverse": true}, "axis": null},
                      "text": {"field": "body"}}},
        {"data": {"values": [{}]}, "mark": {"type": "text", "align": "right", "baseline": "middle", "fontSize": 27.5},
         "encoding": {"x": {"datum": 2022, "type": "quantitative", "scale": {"domain": [1996, 2022], "nice": false, "zero": false}, "axis": null},
                      "y": {"datum": 7, "type": "quantitative", "scale": {"domain": [-1.603, 7.603], "nice": false, "zero": false, "reverse": true}, "axis": null},
                      "text": {"value": "© BCA Research 2019"}}}
      ]
    }
  ],
  "config": {
    "view": {"stroke": null},
    "font": "Liberation Sans, Arial, Helvetica, sans-serif",
    "axis": {"grid": false, "domain": false, "labelFont": "Liberation Sans, Arial, Helvetica, sans-serif", "labelFontSize": 34, "labelFontWeight": "bold", "labelColor": "#000",
             "tickColor": "#000", "tickWidth": 2.5, "titleFont": "Liberation Sans, Arial, Helvetica, sans-serif", "titleFontSize": 34, "titleFontWeight": "bold", "titleColor": "#000",
             "labelOverlap": false, "labelBound": false, "labelFlush": false, "titleAngle": 0, "titleBaseline": "middle", "titlePadding": 0},
    "text": {"font": "Liberation Sans, Arial, Helvetica, sans-serif", "color": "#000"}
  }
}
